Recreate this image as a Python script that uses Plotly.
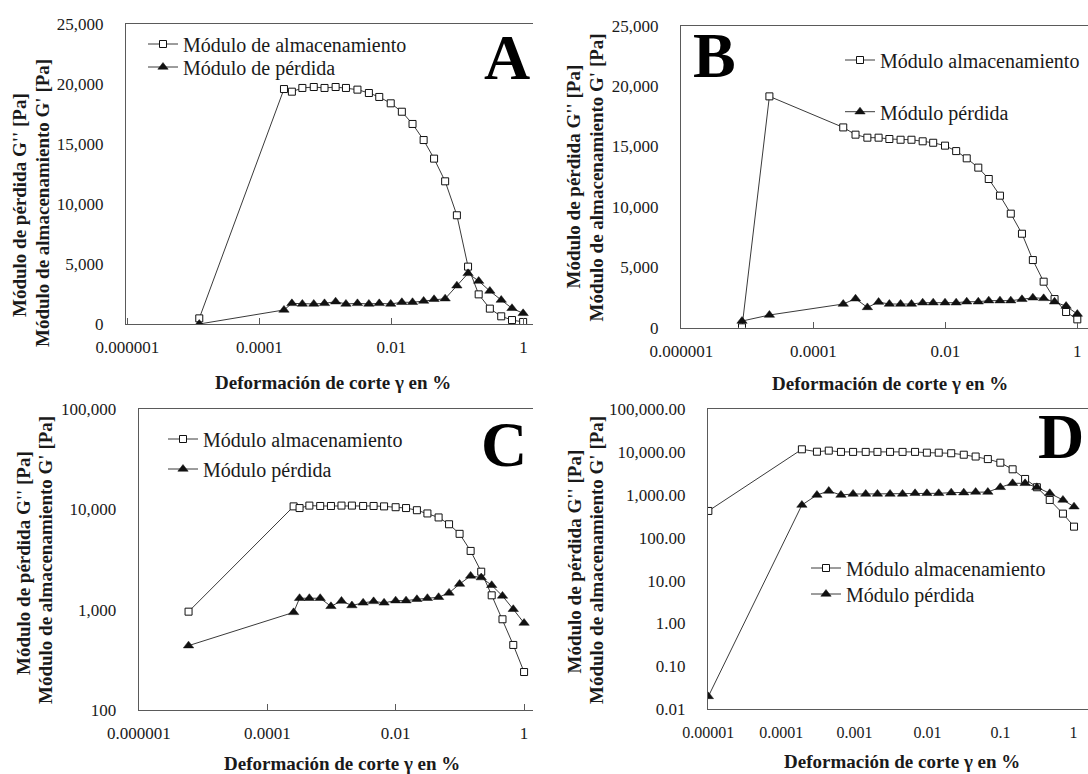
import plotly.graph_objects as go

W, H = 1088, 774
FONT = "Liberation Serif"
INK = "#1a1a1a"
AXC = "#5a5a5a"

# ---------------- data ----------------
a_strain = [1.23e-5, 2.36e-4, 3.11e-4, 4.48e-4, 6.67e-4, 9.7e-4, 1.43e-3, 2.05e-3, 3.06e-3, 4.56e-3,
            6.55e-3, 9.77e-3, 0.0144, 0.0209, 0.0308, 0.0443, 0.0652, 0.0982, 0.145, 0.21, 0.31,
            0.461, 0.671, 0.99]
a_storage = [470, 19580, 19360, 19670, 19750, 19670, 19750, 19670, 19530, 19250, 18920, 18390,
             17690, 16670, 15330, 13780, 11890, 9060, 4780, 2470, 1280, 640, 330, 170]
a_loss = [0, 1170, 1720, 1670, 1670, 1720, 1860, 1670, 1720, 1670, 1720, 1670, 1810, 1810, 1920,
          2060, 2110, 3190, 4220, 3580, 2750, 2000, 1310, 890]

b_strain = [8.3e-6, 2.16e-5, 2.84e-4, 4.36e-4, 6.59e-4, 9.75e-4, 1.42e-3, 2.10e-3, 3.07e-3, 4.54e-3,
            6.55e-3, 9.9e-3, 0.0146, 0.0211, 0.0316, 0.0455, 0.0673, 0.0982, 0.145, 0.212, 0.309,
            0.452, 0.676, 1.0]
b_storage = [30, 19150, 16580, 15980, 15730, 15730, 15620, 15560, 15560, 15430, 15310, 15070, 14620,
             14020, 13250, 12310, 10930, 9440, 7780, 5600, 3810, 2370, 1300, 690]
b_loss = [550, 1050, 1960, 2400, 1680, 2120, 1960, 1960, 1960, 2070, 2070, 2070, 2070, 2150, 2150,
          2240, 2240, 2240, 2350, 2480, 2430, 2150, 1790, 1130]

c_strain = [5.93e-6, 2.57e-4, 3.18e-4, 4.52e-4, 6.67e-4, 9.8e-4, 1.43e-3, 2.08e-3, 3.11e-3, 4.53e-3,
            6.59e-3, 9.98e-3, 0.0145, 0.0214, 0.0312, 0.0466, 0.0678, 0.0989, 0.147, 0.215, 0.313,
            0.461, 0.679, 1.0]
c_storage = [955, 10700, 10300, 10900, 10800, 10800, 10900, 10900, 10800, 10800, 10700, 10500, 10300,
             9800, 9100, 8300, 7100, 5700, 3850, 2390, 1390, 802, 445, 239]
c_loss = [438, 940, 1300, 1300, 1300, 1080, 1220, 1100, 1170, 1210, 1170, 1230, 1230, 1270, 1300,
          1330, 1470, 1800, 2170, 2090, 1750, 1370, 1010, 736]

d_strain = [1e-5, 1.91e-4, 3.07e-4, 4.46e-4, 6.55e-4, 9.6e-4, 1.43e-3, 2.07e-3, 3.08e-3, 4.57e-3,
            6.78e-3, 9.84e-3, 0.0143, 0.0212, 0.0315, 0.0458, 0.0673, 0.0998, 0.147, 0.218, 0.316,
            0.474, 0.719, 1.02]
d_storage = [420, 11500, 10100, 10700, 10000, 10000, 10000, 10000, 10000, 10000, 10000, 9600, 9600,
             9300, 8600, 7800, 6800, 5600, 3930, 2340, 1500, 759, 364, 181]
d_loss = [0.020, 578, 989, 1227, 989, 1045, 1045, 1045, 1045, 1045, 1084, 1084, 1084, 1122, 1122,
          1161, 1161, 1495, 1854, 1854, 1495, 1084, 757, 528]

x_ticks_abc = [1e-6, 1e-4, 1e-2, 1]
x_labels_abc = ["0.000001", "0.0001", "0.01", "1"]
x_ticks_d = [1e-5, 1e-4, 1e-3, 1e-2, 1e-1, 1]
x_labels_d = ["0.00001", "0.0001", "0.001", "0.01", "0.1", "1"]
y_ticks_lin = [0, 5000, 10000, 15000, 20000, 25000]
y_ticks_c = [100, 1000, 10000, 100000]
y_ticks_d = [0.01, 0.1, 1, 10, 100, 1000, 10000, 100000]

storage_names = ["Módulo de almacenamiento", "Módulo almacenamiento",
                 "Módulo almacenamiento", "Módulo almacenamiento"]
loss_names = ["Módulo de pérdida", "Módulo pérdida", "Módulo pérdida", "Módulo pérdida"]
panel_letters = ["A", "B", "C", "D"]
x_title = "Deformación de corte γ en %"
y_title_1 = "Módulo de pérdida G'' [Pa]"
y_title_2 = "Módulo de almacenamiento G' [Pa]"

# ---------------- layout geometry (pixels) ----------------
panels = [
    dict(x0=126, x1=533, top=24, bot=324, xr=[-6.02, 0.145], ylog=False, yr=[0, 25000]),
    dict(x0=681.0, x1=1088, top=25.7, bot=327.7, xr=[-6.005, 0.162], ylog=False, yr=[0, 25000]),
    dict(x0=138.6, x1=533, top=409, bot=710, xr=[-6.005, 0.139], ylog=True, yr=[2, 5]),
    dict(x0=708.0, x1=1088, top=409, bot=709.3, xr=[-5.005, 0.2], ylog=True, yr=[-2, 5]),
]
series = [(a_strain, a_storage, a_loss), (b_strain, b_storage, b_loss),
          (c_strain, c_storage, c_loss), (d_strain, d_storage, d_loss)]

# legend rows: (line start x, row1 y, row2 y)
legend_pos = [(148, 44, 67), (845, 60, 111.7), (168, 439, 469), (811, 568, 594)]
letter_pos = [(507, 57), (714, 55), (504, 444), (1061, 436)]
xtitle_pos = [(333, 382), (890, 383), (342, 763), (902, 761)]
ytitle_pos = [((20, 205), (42, 203)), ((573.5, 177), (595.5, 178)),
              ((23, 563), (45, 560)), ((573.5, 562), (596, 560))]


def px(x):
    return x / W


def py(y):
    return 1 - y / H


fig = go.Figure()
layout = dict(width=W, height=H, margin=dict(l=0, r=0, t=0, b=0, autoexpand=False),
              paper_bgcolor="white", plot_bgcolor="white", showlegend=True,
              font=dict(family=FONT, color=INK, size=17), annotations=[])

for i, (p, (xs, st, lo)) in enumerate(zip(panels, series)):
    k = "" if i == 0 else str(i + 1)
    xa, ya = "x" + k, "y" + k
    lg1, lg2 = "legend" + str(2 * i + 2), "legend" + str(2 * i + 3)
    fig.add_trace(go.Scatter(x=xs, y=st, xaxis=xa, yaxis=ya, name=storage_names[i],
                             mode="lines+markers", legend=lg1,
                             line=dict(color="#3a3a3a", width=1),
                             marker=dict(symbol="square", size=7, color="white",
                                         line=dict(color="#111", width=1))))
    fig.add_trace(go.Scatter(x=xs, y=lo, xaxis=xa, yaxis=ya, name=loss_names[i],
                             mode="lines+markers", legend=lg2,
                             line=dict(color="#3a3a3a", width=1),
                             marker=dict(symbol="triangle-up", size=9, color="#111",
                                         line=dict(color="#111", width=0.5))))
    if i < 3:
        tv, tt = x_ticks_abc, x_labels_abc
        ticks = "inside"
    else:
        tv, tt = x_ticks_d, x_labels_d
        ticks = ""
    layout["xaxis" + k] = dict(type="log", range=p["xr"], domain=[px(p["x0"]), px(p["x1"])],
                               anchor=ya, showgrid=False, zeroline=False, showline=True,
                               linecolor=AXC, linewidth=1, mirror=True, automargin=False,
                               ticks=ticks, ticklen=6, tickcolor=AXC,
                               tickvals=tv, ticktext=tt,
                               tickfont=dict(size=16 if i == 3 else 17),
                               ticklabelstandoff=8)
    if p["ylog"]:
        yv = y_ticks_c if i == 2 else y_ticks_d
        yt = [f"{v:,.0f}" for v in yv] if i == 2 else [f"{v:,.2f}" for v in yv]
        ydict = dict(type="log", tickvals=yv, ticktext=yt)
    else:
        ydict = dict(type="linear", tickvals=y_ticks_lin,
                     ticktext=[f"{v:,.0f}" for v in y_ticks_lin])
    ydict.update(range=p["yr"], domain=[py(p["bot"]), py(p["top"])], anchor=xa,
                 showgrid=False, zeroline=False, showline=True, linecolor=AXC, linewidth=1,
                 mirror=False, automargin=False, ticks="", tickfont=dict(size=17),
                 ticklabelstandoff=18)
    layout["yaxis" + k] = ydict

    lx, r1, r2 = legend_pos[i]
    for lg, ry in ((lg1, r1), (lg2, r2)):
        layout[lg] = dict(x=px(lx - 5), y=py(ry), xanchor="left", yanchor="middle",
                          bgcolor="rgba(0,0,0,0)", borderwidth=0, visible=True,
                          font=dict(size=20, family=FONT, color=INK),
                          itemclick=False, itemdoubleclick=False)

    layout["annotations"].append(dict(text="<b>" + panel_letters[i] + "</b>",
                                      x=px(letter_pos[i][0]), y=py(letter_pos[i][1]),
                                      xref="paper", yref="paper", showarrow=False,
                                      xanchor="center", yanchor="middle",
                                      font=dict(size=64, family=FONT, color="black")))
    layout["annotations"].append(dict(text="<b>" + x_title + "</b>",
                                      x=px(xtitle_pos[i][0]), y=py(xtitle_pos[i][1]),
                                      xref="paper", yref="paper", showarrow=False,
                                      xanchor="center", yanchor="middle",
                                      font=dict(size=19, family=FONT, color=INK)))
    for txt, (tx, ty) in zip((y_title_1, y_title_2), ytitle_pos[i]):
        layout["annotations"].append(dict(text="<b>" + txt + "</b>", textangle=-90,
                                          x=px(tx), y=py(ty), xref="paper", yref="paper",
                                          showarrow=False, xanchor="center", yanchor="middle",
                                          font=dict(size=19, family=FONT, color=INK)))

fig.update_layout(**layout)
fig.write_html("out.html")
